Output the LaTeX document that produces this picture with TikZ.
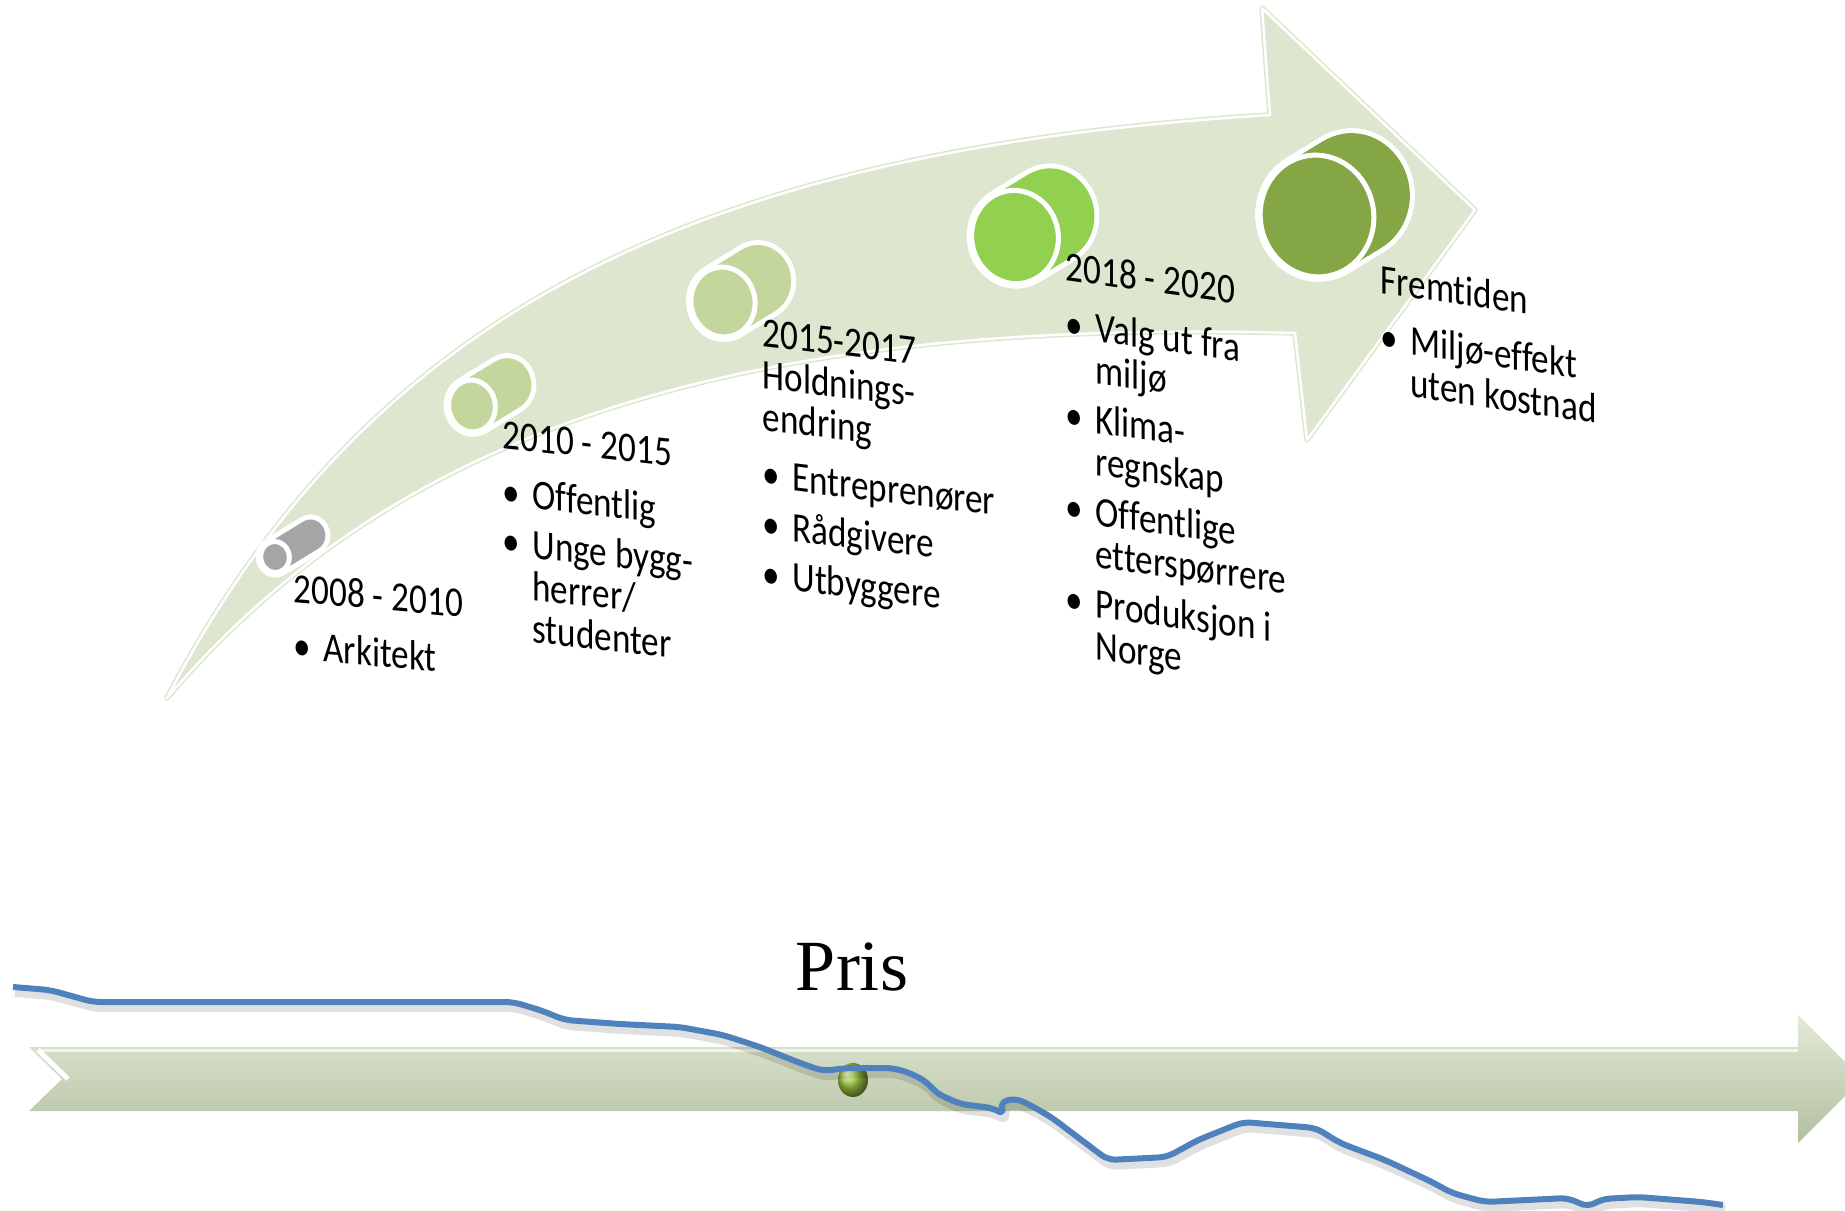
\documentclass[tikz,border=0pt]{standalone}
\usepackage{fontspec}
\setmainfont{Carlito}[Ligatures=NoCommon]
\newfontfamily\prisfont{Liberation Serif}
\usetikzlibrary{calc}
\definecolor{band}{RGB}{221,230,206}
\definecolor{greyc}{RGB}{165,165,165}
\definecolor{palec}{RGB}{195,214,155}
\definecolor{brightc}{RGB}{146,208,80}
\definecolor{olivec}{RGB}{133,166,68}
\definecolor{bartop}{RGB}{226,234,214}
\definecolor{barbot}{RGB}{178,191,160}
\definecolor{price}{RGB}{79,129,189}
\newcommand{\drum}[5]{% front centre, radii in mm, colour
  \foreach \t in {0,0.05,...,1.01}
    \draw[white, line width=1mm] ($(#1,#2)+\t*(36,-22)$) circle [x radius=#3mm, y radius=#4mm, rotate=10];
  \foreach \t in {0,0.05,...,1.01}
    \fill[#5] ($(#1,#2)+\t*(36,-22)$) circle [x radius=#3mm, y radius=#4mm, rotate=10];
  \filldraw[fill=#5, draw=white, line width=0.5mm] (#1,#2) circle [x radius=#3mm, y radius=#4mm, rotate=10];
}
\newcommand{\yr}[1]{\multicolumn{2}{@{}l@{}}{#1}}
\newenvironment{steps}{\begin{tabular}[t]{@{}l@{\hspace{3.5pt}}l@{}}}{\end{tabular}}

\begin{document}
\begin{tikzpicture}[x=0.1mm, y=-0.1mm, line join=round,
    period/.style={inner sep=0pt, anchor=base west, font=\fontsize{10}{10}\selectfont, yslant=-#1, yscale=1.2}]
  \useasboundingbox (0,0) rectangle (1845,1211);

  % curved arrow
  \path[fill=band, draw=band, double=white, double distance=0.25mm, line width=0.15mm]
    (167,698) .. controls (370,310) and (700,150) .. (1270,115) -- (1262,8) -- (1475,210)
    -- (1307,440) -- (1295,333) .. controls (800,320) and (420,400) .. cycle;

  % steps
  \drum{275}{557}{1.43}{1.55}{greyc}
  \drum{472}{406}{2.33}{2.6}{palec}
  \drum{723}{302}{3.2}{3.5}{palec}
  \drum{1015}{237}{4.33}{4.67}{brightc}
  \drum{1317}{216}{5.67}{6.1}{olivec}

  \node[period=0.09] (p1) at (293,602) {\begin{steps}
      \yr{2008 - 2010}\\[3.5pt]
      \textbullet & Arkitekt
    \end{steps}};
  \node[period=0.11] (p2) at (502,448) {\begin{steps}
      \yr{2010 - 2015}\\[3.5pt]
      \textbullet & Offentlig\\[1.8pt]
      \textbullet & Unge bygg-\\
      & herrer/\\
      & studenter
    \end{steps}};
  \node[period=0.12] (p3) at (762,346) {\begin{steps}
      \yr{2015-2017}\\
      \yr{Holdnings-}\\
      \yr{endring}\\[3.5pt]
      \textbullet & Entreprenører\\[1.8pt]
      \textbullet & Rådgivere\\[1.8pt]
      \textbullet & Utbyggere
    \end{steps}};
  \node[period=0.14] (p4) at (1065,280) {\begin{steps}
      \yr{2018 - 2020}\\[3.5pt]
      \textbullet & Valg ut fra\\
      & miljø\\[1.8pt]
      \textbullet & Klima-\\
      & regnskap\\[1.8pt]
      \textbullet & Offentlige\\
      & etterspørrere\\[1.8pt]
      \textbullet & Produksjon i\\
      & Norge
    \end{steps}};
  \node[period=0.145] (p5) at (1380,293) {\begin{steps}
      \yr{Fremtiden}\\[3.5pt]
      \textbullet & Miljø-effekt\\
      & uten kostnad
    \end{steps}};

  % time axis
  \shade[top color=bartop, bottom color=barbot]
    (29,1047) -- (1798,1047) -- (1798,1015) -- (1862,1079) -- (1798,1143)
    -- (1798,1111) -- (29,1111) -- (62,1079) -- cycle;
  \draw[white, opacity=0.7, line width=0.3mm] (40,1050) -- (1798,1050);
  \draw[white, line width=0.5mm] (38,1050) -- (68,1079);
  \shade[ball color={rgb,255:red,165;green,210;blue,70}] (853,1080) circle [x radius=1.5mm, y radius=1.7mm];

  % price curve
  \draw[black, opacity=0.12, line width=1mm, rounded corners=0.8mm, shift={(2,5)}]
    (13,987) -- (50,990) -- (93,1002) -- (513,1002) -- (540,1010) -- (565,1020) -- (620,1024)
    -- (680,1027) -- (723,1035) -- (760,1047) -- (800,1063) -- (823,1071) -- (847,1068)
    -- (893,1068) -- (910,1073) -- (927,1082) -- (936,1093) -- (960,1104) -- (993,1108)
    -- (1005,1115) -- (999,1103) -- (1015,1098) -- (1030,1105) -- (1051,1117) -- (1108,1160)
    -- (1167,1157) -- (1198,1140) -- (1243,1122) -- (1316,1128) -- (1340,1143) -- (1385,1160)
    -- (1432,1182) -- (1452,1193) -- (1485,1202) -- (1568,1198) -- (1588,1207) -- (1602,1199)
    -- (1638,1197) -- (1702,1202) -- (1723,1205);
  \draw[price, line width=0.6mm, rounded corners=0.8mm]
    (13,987) -- (50,990) -- (93,1002) -- (513,1002) -- (540,1010) -- (565,1020) -- (620,1024)
    -- (680,1027) -- (723,1035) -- (760,1047) -- (800,1063) -- (823,1071) -- (847,1068)
    -- (893,1068) -- (910,1073) -- (927,1082) -- (936,1093) -- (960,1104) -- (993,1108)
    -- (1005,1115) -- (999,1103) -- (1015,1098) -- (1030,1105) -- (1051,1117) -- (1108,1160)
    -- (1167,1157) -- (1198,1140) -- (1243,1122) -- (1316,1128) -- (1340,1143) -- (1385,1160)
    -- (1432,1182) -- (1452,1193) -- (1485,1202) -- (1568,1198) -- (1588,1207) -- (1602,1199)
    -- (1638,1197) -- (1702,1202) -- (1723,1205);

  \node[anchor=base, inner sep=0pt, font=\prisfont\fontsize{20.5}{20}\selectfont] (pris) at (852,990) {Pris};
\end{tikzpicture}
\end{document}
